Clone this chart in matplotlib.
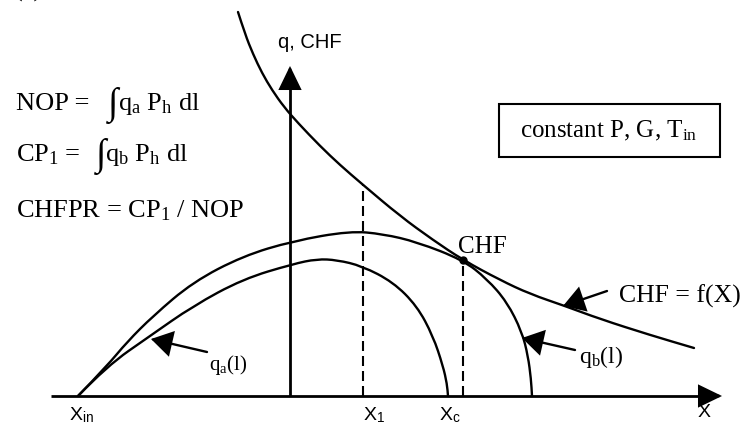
import matplotlib
matplotlib.use("Agg")
import matplotlib.pyplot as plt
from matplotlib.path import Path
from matplotlib.patches import PathPatch, FancyArrowPatch, Rectangle

plt.rcParams['font.family'] = ['Liberation Serif', 'DejaVu Serif']
plt.rcParams['mathtext.fontset'] = 'custom'
plt.rcParams['mathtext.rm'] = 'Liberation Serif'
plt.rcParams['mathtext.sf'] = 'Liberation Sans'
plt.rcParams['mathtext.it'] = 'Liberation Serif:italic'

# schematic curves, drawn in a 744 x 431 layout frame (y grows downward)
chf_x = [238, 245, 253, 262, 272, 284, 298, 320, 340, 362, 400, 433, 463, 500, 530, 565, 600, 650, 694]
chf_y = [13, 35, 55, 74, 91, 108, 124, 147, 166, 185, 217, 241, 261, 281, 295, 307, 320, 336, 349]

qb_x = [78, 107, 127, 153, 193, 243, 293, 350, 383, 417, 463, 487, 507, 522, 528, 531, 532]
qb_y = [397, 367, 343, 317, 283, 257, 242, 232, 235, 243, 261, 280, 303, 333, 357, 380, 397]

qa_x = [78, 107, 150, 193, 243, 293, 317, 337, 362, 393, 417, 433, 443, 447, 448]
qa_y = [397, 367, 337, 307, 280, 265, 260, 261, 267, 283, 307, 337, 367, 385, 397]

x_1, x_c = 363, 463
chf_point = (463, 261)
x_axis_y = 397
q_axis_x = 290

tick_labels = [r"X$_\mathsf{in}$", r"X$_\mathsf{1}$", r"X$_\mathsf{c}$"]
tick_pos = [81, 374, 450]

# (text before the integral, gap, text after it, baseline)
formulas = [("NOP =", 19, r"q$_\mathrm{a}$ P$_\mathrm{h}$ dl", 110),
            (r"CP$_\mathrm{1}$ =", 15, r"q$_\mathrm{b}$ P$_\mathrm{h}$ dl", 161),
            (r"CHFPR = CP$_\mathrm{1}$ / NOP", 0, None, 217)]


def smooth_path(xs, ys):
    verts = [(xs[0], ys[0])]
    codes = [Path.MOVETO]
    for i in range(1, len(xs) - 1):
        mid = ((xs[i] + xs[i + 1]) / 2, (ys[i] + ys[i + 1]) / 2)
        verts += [(xs[i], ys[i]), mid]
        codes += [Path.CURVE3, Path.CURVE3]
    verts.append((xs[-1], ys[-1]))
    codes.append(Path.LINETO)
    return Path(verts, codes)


def arrow(ax, start, end, lw=1.7, hl=0.65, hw=0.4, ms=20):
    a = FancyArrowPatch(start, end,
                        arrowstyle='-|>,head_length=%g,head_width=%g' % (hl, hw),
                        mutation_scale=ms, lw=lw, color='black',
                        shrinkA=0, shrinkB=0, joinstyle='miter')
    ax.add_patch(a)


fig = plt.figure(figsize=(7.44, 4.31), dpi=100)
ax = fig.add_axes([0, 0, 1, 1])
ax.set_xlim(0, 744)
ax.set_ylim(431, 0)
ax.axis('off')
renderer = fig.canvas.get_renderer()

# axes of the sketch
ax.plot([51, 705], [x_axis_y, x_axis_y], color='black', lw=2.0, solid_capstyle='butt')
arrow(ax, (702, x_axis_y), (722, x_axis_y), lw=2.0, hl=0.7, hw=0.34)
ax.plot([q_axis_x, q_axis_x], [x_axis_y, 84], color='black', lw=2.0, solid_capstyle='butt')
arrow(ax, (q_axis_x, 88), (q_axis_x, 67), lw=2.0, hl=0.7, hw=0.34)

# curves
for xs, ys in [(chf_x, chf_y), (qb_x, qb_y), (qa_x, qa_y)]:
    ax.add_patch(PathPatch(smooth_path(xs, ys), fill=False, lw=1.7,
                           edgecolor='black', capstyle='round'))

# dashed markers at X1 and Xc
ax.plot([x_1, x_1], [x_axis_y, 185], color='black', lw=1.5, ls=(0, (4.8, 2.4)))
ax.plot([x_c, x_c], [x_axis_y, chf_point[1]], color='black', lw=1.5, ls=(0, (4.8, 2.4)))
ax.plot(*chf_point, 'o', color='black', ms=5)
ax.text(482, 247, "CHF", fontsize=18, ha='center', va='center')

# leader arrows
arrow(ax, (207, 353), (151, 340))
ax.text(228, 365, r"q$_\mathrm{a}$(l)", fontsize=15, ha='center', va='center')
arrow(ax, (575, 351), (522, 339))
ax.text(601, 357, r"q$_\mathrm{b}$(l)", fontsize=17, ha='center', va='center')
arrow(ax, (607, 292), (563, 307))
ax.text(619, 296, "CHF = f(X)", fontsize=18.5, ha='left', va='center')

# axis labels
for lab, xp in zip(tick_labels, tick_pos):
    ax.text(xp, 415, lab, fontsize=14, ha='center', va='center', family='Liberation Sans')
ax.text(704, 413, "X", fontsize=14, ha='center', va='center', family='Liberation Sans')
ax.text(310, 42, "q, CHF", fontsize=14.5, ha='center', va='center', family='Liberation Sans')

# integral definitions, the integral sign set larger than the text
for left, gap, right, base in formulas:
    t = ax.text(16, base, left, fontsize=19, ha='left', va='baseline')
    if right is None:
        continue
    x = 16 + t.get_window_extent(renderer).width + gap
    s = ax.text(x, base + 4, "\u222b", fontsize=27, ha='left', va='baseline')
    x += s.get_window_extent(renderer).width - 1
    ax.text(x, base, right, fontsize=19, ha='left', va='baseline')

ax.add_patch(Rectangle((499, 105), 221, 53, fill=False, lw=1.5, edgecolor='black'))
ax.text(609, 131, r"constant P, G, T$_\mathrm{in}$", fontsize=18, ha='center', va='center')

ax.text(14, -3, "(c)", fontsize=19, ha='left', va='baseline')

fig.savefig("out.png", dpi=100)
